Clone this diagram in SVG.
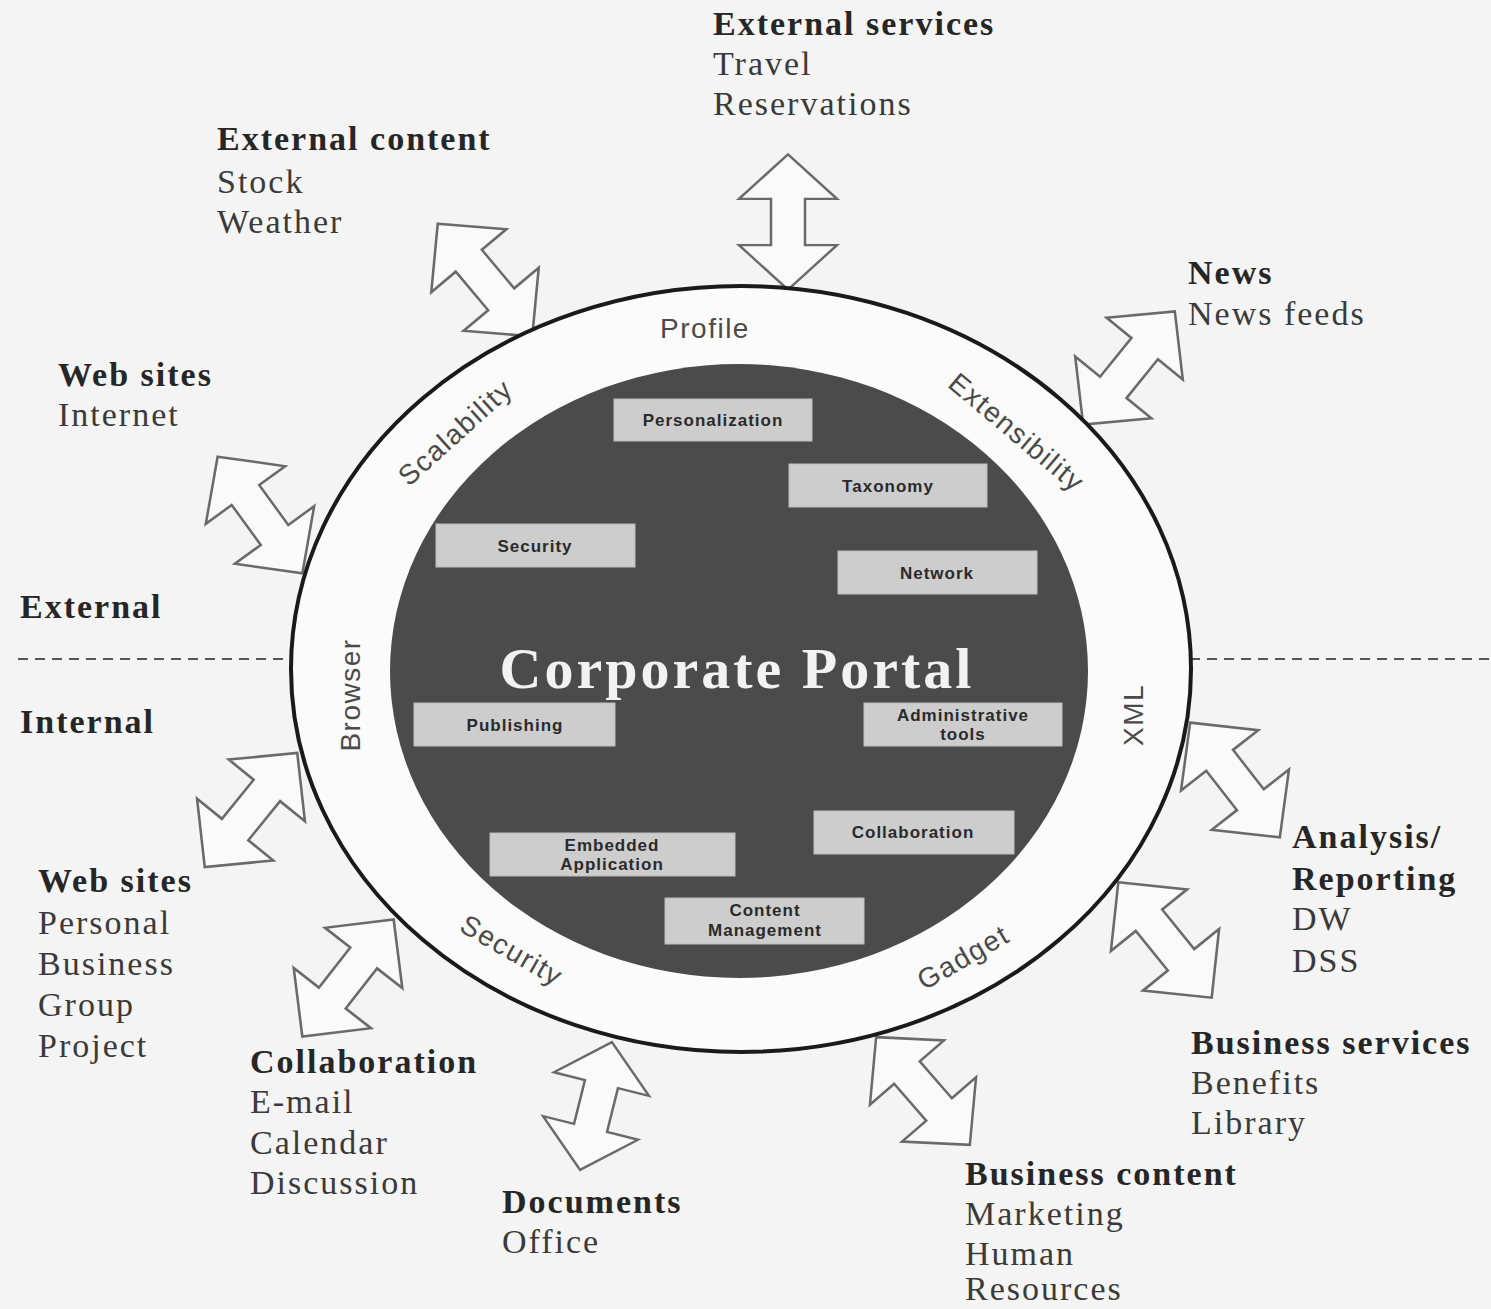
<svg xmlns="http://www.w3.org/2000/svg" xmlns:xlink="http://www.w3.org/1999/xlink" width="1491" height="1309" viewBox="0 0 1491 1309">
<style>
.bg{fill:#f4f4f4}
.arr{fill:#fafafa;stroke:#6a6a6a;stroke-width:2.5;stroke-linejoin:miter}
.h{font-family:"Liberation Serif",serif;font-weight:bold;font-size:34px;fill:#262626;letter-spacing:2px}
.t{font-family:"Liberation Serif",serif;font-size:34px;fill:#3a3a3a;letter-spacing:2px}
.ring{font-family:"Liberation Sans",Arial,sans-serif;font-size:28px;fill:#4a4a4a;letter-spacing:1.5px}
.box rect{fill:#cdcdcd;stroke:#bdbdbd;stroke-width:1}
.box text{font-family:"Liberation Sans",Arial,sans-serif;font-weight:bold;font-size:17px;fill:#2a2a2a;text-anchor:middle;letter-spacing:1px}
.dash{stroke:#555;stroke-width:2;stroke-dasharray:10 7}
</style>
<defs>
<path id="dbl" d="M0,-70 L49,-24 L17,-24 L17,24 L49,24 L0,70 L-49,24 L-17,24 L-17,-24 L-49,-24 Z"/>
</defs>
<rect class="bg" x="0" y="0" width="1491" height="1309"/>

<g id="connectors">
<use xlink:href="#dbl" class="arr" transform="translate(788,222) scale(1,0.965)"/>
<use xlink:href="#dbl" class="arr" transform="translate(485,280) rotate(-40) scale(1,1.05)"/>
<use xlink:href="#dbl" class="arr" transform="translate(260,515) rotate(-36) scale(1,1.03)"/>
<use xlink:href="#dbl" class="arr" transform="translate(1129,368) rotate(39) scale(1,1.04)"/>
<use xlink:href="#dbl" class="arr" transform="translate(1235,780) rotate(-38) scale(1,1.04)"/>
<use xlink:href="#dbl" class="arr" transform="translate(251,810) rotate(39) scale(1,1.05)"/>
<use xlink:href="#dbl" class="arr" transform="translate(1165,940) rotate(-39) scale(1,1.06)"/>
<use xlink:href="#dbl" class="arr" transform="translate(348,978) rotate(38) scale(1,1.06)"/>
<use xlink:href="#dbl" class="arr" transform="translate(596,1106) rotate(14) scale(1,0.94)"/>
<use xlink:href="#dbl" class="arr" transform="translate(923,1091) rotate(-41) scale(1,1.02)"/>
<line class="dash" x1="18" y1="659" x2="292" y2="659"/>
<line class="dash" x1="1190" y1="659" x2="1491" y2="659"/>
</g>

<g id="portal">
<ellipse cx="741" cy="669" rx="450" ry="383" fill="#fbfbfb" stroke="#1a1a1a" stroke-width="4"/>
<ellipse cx="739" cy="671" rx="349" ry="307" fill="#4b4b4b"/>
<text x="737" y="688" text-anchor="middle" font-family="Liberation Serif,serif" font-weight="bold" font-size="58" fill="#f2f2f2" letter-spacing="3">Corporate Portal</text>
</g>

<g id="ring-labels">
<text class="ring" x="705" y="338" text-anchor="middle">Profile</text>
<text class="ring" transform="translate(455,432) rotate(-42)" y="10" text-anchor="middle">Scalability</text>
<text class="ring" transform="translate(1017,432) rotate(40)" y="10" text-anchor="middle">Extensibility</text>
<text class="ring" transform="translate(350,695) rotate(-90)" y="10" text-anchor="middle">Browser</text>
<text class="ring" transform="translate(1133,715) rotate(-90)" y="10" text-anchor="middle">XML</text>
<text class="ring" transform="translate(512,950) rotate(30)" y="10" text-anchor="middle">Security</text>
<text class="ring" transform="translate(963,957) rotate(-30)" y="10" text-anchor="middle">Gadget</text>
</g>

<g id="box-personalization" class="box"><rect x="614" y="399" width="198" height="42"/><text x="713" y="426">Personalization</text></g>
<g id="box-taxonomy" class="box"><rect x="789" y="464" width="198" height="43"/><text x="888" y="492">Taxonomy</text></g>
<g id="box-security" class="box"><rect x="436" y="524" width="199" height="43"/><text x="535" y="552">Security</text></g>
<g id="box-network" class="box"><rect x="838" y="551" width="199" height="43"/><text x="937" y="579">Network</text></g>
<g id="box-publishing" class="box"><rect x="414" y="703" width="201" height="43"/><text x="515" y="731">Publishing</text></g>
<g id="box-admin" class="box"><rect x="864" y="703" width="198" height="43"/><text x="963" y="721">Administrative</text><text x="963" y="740">tools</text></g>
<g id="box-collaboration" class="box"><rect x="814" y="811" width="200" height="43"/><text x="913" y="838">Collaboration</text></g>
<g id="box-embedded" class="box"><rect x="490" y="833" width="245" height="43"/><text x="612" y="851">Embedded</text><text x="612" y="870">Application</text></g>
<g id="box-content" class="box"><rect x="665" y="898" width="199" height="46"/><text x="765" y="916">Content</text><text x="765" y="936">Management</text></g>

<g id="external-services"><text class="h" x="713" y="35">External services</text><text class="t" x="713" y="75">Travel</text><text class="t" x="713" y="115">Reservations</text></g>
<g id="external-content"><text class="h" x="217" y="150">External content</text><text class="t" x="217" y="193">Stock</text><text class="t" x="217" y="233">Weather</text></g>
<g id="news"><text class="h" x="1188" y="284">News</text><text class="t" x="1188" y="325">News feeds</text></g>
<g id="web-sites-ext"><text class="h" x="58" y="386">Web sites</text><text class="t" x="58" y="426">Internet</text></g>
<g id="external"><text class="h" x="20" y="618">External</text></g>
<g id="internal"><text class="h" x="20" y="733">Internal</text></g>
<g id="web-sites-int"><text class="h" x="38" y="892">Web sites</text><text class="t" x="38" y="934">Personal</text><text class="t" x="38" y="975">Business</text><text class="t" x="38" y="1016">Group</text><text class="t" x="38" y="1057">Project</text></g>
<g id="analysis"><text class="h" x="1292" y="848">Analysis/</text><text class="h" x="1292" y="890">Reporting</text><text class="t" x="1292" y="930">DW</text><text class="t" x="1292" y="972">DSS</text></g>
<g id="business-services"><text class="h" x="1191" y="1054">Business services</text><text class="t" x="1191" y="1094">Benefits</text><text class="t" x="1191" y="1134">Library</text></g>
<g id="collaboration"><text class="h" x="250" y="1073">Collaboration</text><text class="t" x="250" y="1113">E-mail</text><text class="t" x="250" y="1154">Calendar</text><text class="t" x="250" y="1194">Discussion</text></g>
<g id="documents"><text class="h" x="502" y="1213">Documents</text><text class="t" x="502" y="1253">Office</text></g>
<g id="business-content"><text class="h" x="965" y="1185">Business content</text><text class="t" x="965" y="1225">Marketing</text><text class="t" x="965" y="1265">Human</text><text class="t" x="965" y="1300">Resources</text></g>
</svg>
